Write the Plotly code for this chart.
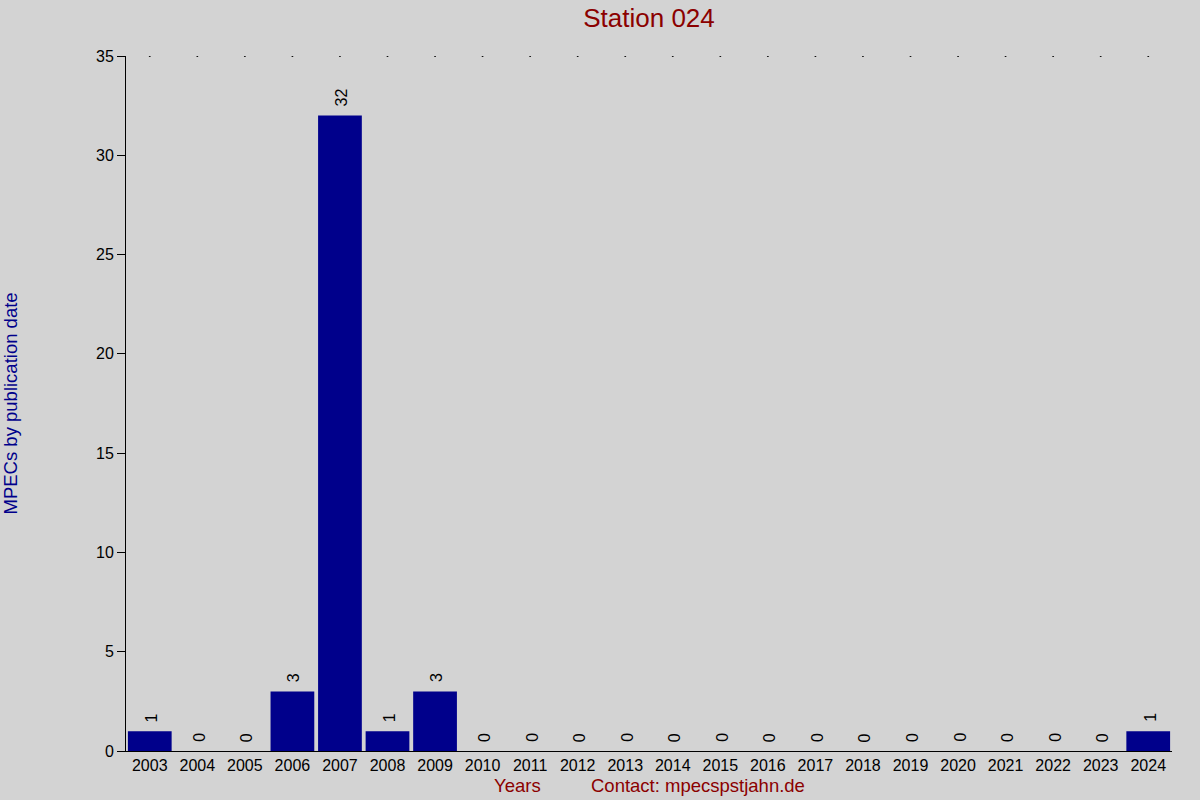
import plotly.graph_objects as go

years = [str(y) for y in range(2003, 2025)]
counts = [1, 0, 0, 3, 32, 1, 3, 0, 0, 0, 0, 0, 0, 0, 0, 0, 0, 0, 0, 0, 0, 1]
y_ticks = [0, 5, 10, 15, 20, 25, 30, 35]

fig = go.Figure()

# bars
fig.add_trace(go.Bar(
    x=years, y=counts,
    marker=dict(color="#00008B", line=dict(width=0)),
    width=0.92,
    hoverinfo="x+y",
))

# little dots along the top
fig.add_trace(go.Scatter(
    x=years, y=[35] * len(years), mode="markers",
    marker=dict(color="black", size=2),
    hoverinfo="skip",
))

# rotated count labels above each bar (x given as category index)
for i, c in enumerate(counts):
    fig.add_annotation(x=i, y=c, text=str(c), textangle=-90, showarrow=False,
                       xanchor="center", yanchor="bottom", yshift=7, xshift=2,
                       font=dict(color="black", size=16))

fig.update_layout(
    width=1200, height=800,
    paper_bgcolor="#d3d3d3", plot_bgcolor="#d3d3d3",
    margin=dict(l=126, r=28, t=56, b=49),
    showlegend=False,
    font=dict(family="Liberation Sans, Arial", size=16, color="black"),
    title=dict(text="Station 024", x=(126 + 1172) / 2 / 1200, xanchor="center",
               y=0.978, yanchor="middle",
               font=dict(color="#8B0000", size=26)),
    xaxis=dict(type="category", range=[-0.5, 21.5], showgrid=False,
               showline=True, linecolor="black", linewidth=1,
               ticks="", tickfont=dict(size=16)),
    yaxis=dict(range=[0, 35], tickvals=y_ticks, showgrid=False,
               showline=True, linecolor="black", linewidth=1,
               ticks="outside", ticklen=8, tickcolor="black",
               zeroline=False, tickfont=dict(size=16)),
)

fig.add_annotation(text="MPECs by publication date", xref="paper", yref="paper",
                   x=-116 / 1046, y=0.5, textangle=-90, showarrow=False,
                   xanchor="center", yanchor="middle",
                   font=dict(color="#00008B", size=18.5))
fig.add_annotation(text="Years", xref="paper", yref="paper",
                   x=(517 - 126) / 1046, y=-35 / 695, showarrow=False,
                   xanchor="center", yanchor="middle",
                   font=dict(color="#8B0000", size=18.5))
fig.add_annotation(text="Contact: mpecspstjahn.de", xref="paper", yref="paper",
                   x=(698 - 126) / 1046, y=-35 / 695, showarrow=False,
                   xanchor="center", yanchor="middle",
                   font=dict(color="#8B0000", size=18.5))

fig.write_html("out.html", config={"displayModeBar": False},
               post_script="document.body.style.margin='0';")
